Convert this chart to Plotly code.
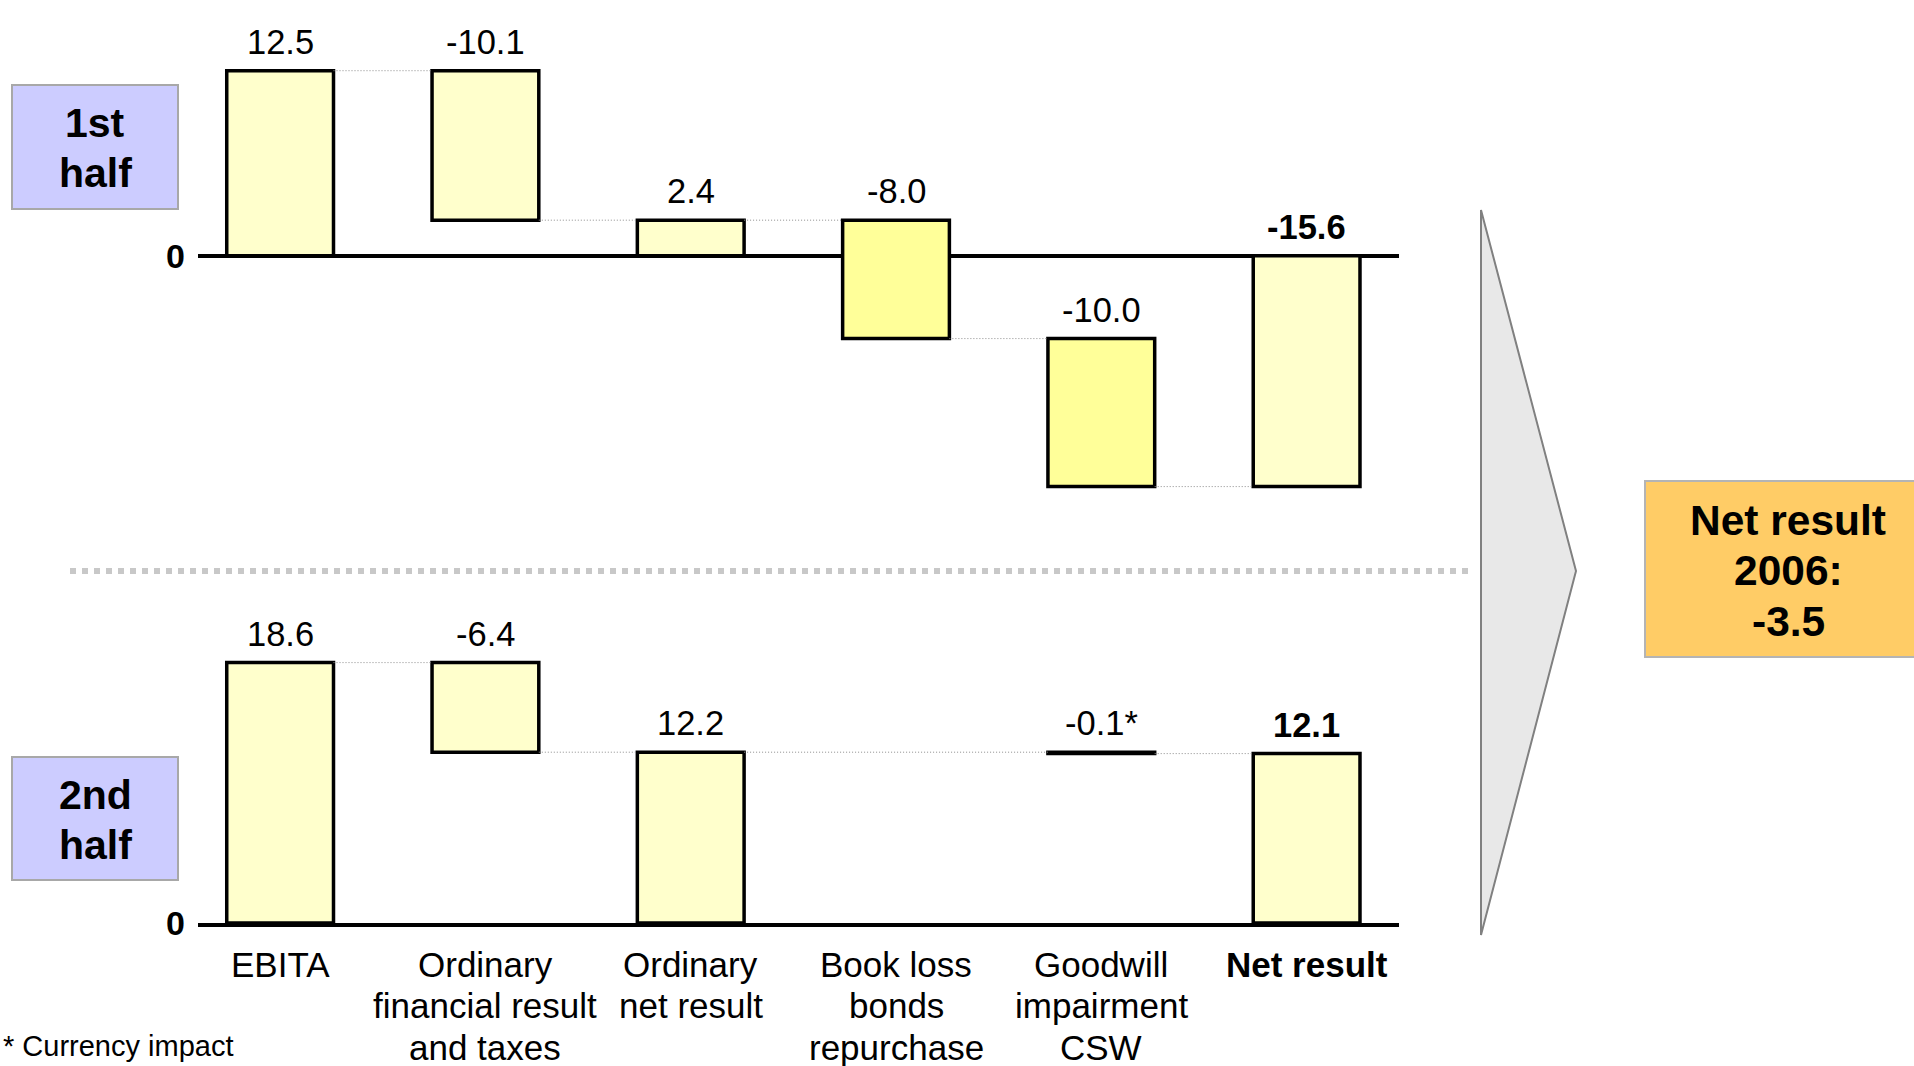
import plotly.graph_objects as go

W, H = 1914, 1066
FONT = "Liberation Sans, Arial, sans-serif"

# ---------------- data ----------------
categories = [
    "EBITA",
    "Ordinary<br>financial result<br>and taxes",
    "Ordinary<br>net result",
    "Book loss<br>bonds<br>repurchase",
    "Goodwill<br>impairment<br>CSW",
    "<b>Net result</b>",
]
measures = ["absolute", "relative", "total", "relative", "relative", "total"]
h1_values = [12.5, -10.1, 2.4, -8.0, -10.0, -15.6]
h2_values = [18.6, -6.4, 12.2, 0.0, -0.1, 12.1]
h1_colors = ["#FFFFCC", "#FFFFCC", "#FFFFCC", "#FFFF99", "#FFFF99", "#FFFFCC"]
h2_colors = ["#FFFFCC", "#FFFFCC", "#FFFFCC", "#FFFF99", "#FFFF99", "#FFFFCC"]
h1_suffix = ["", "", "", "", "", ""]
h2_suffix = ["", "", "", "", "*", ""]
bold_label = [False, False, False, False, False, True]
half_labels = ["1st<br>half", "2nd<br>half"]
total_text = "Net result<br>2006:<br>-3.5"
footnote = "* Currency impact"

BAR_W = 0.52


def px(x):
    return x / W


def py(y):
    return 1 - y / H


def steps(values):
    bases, heights, ends = [], [], []
    run = 0.0
    for v, m in zip(values, measures):
        if m in ("absolute", "total"):
            bases.append(0.0)
            heights.append(v)
            run = v
        else:
            bases.append(run)
            heights.append(v if v != 0 else None)
            run = run + v
        ends.append(run)
    return bases, heights, ends


fig = go.Figure()
annotations = []


def add_lines(text, x, xref, y_first, spacing, size, bold=False):
    for j, line in enumerate(text.split("<br>")):
        t = f"<b>{line}</b>" if bold else line
        annotations.append(dict(
            x=x, y=py(y_first + spacing * j), xref=xref, yref="paper",
            xanchor="center", yanchor="middle", text=t, showarrow=False,
            font=dict(size=size, color="black", family=FONT),
        ))


def add_panel(values, colors, suffix, xa, ya):
    bases, heights, ends = steps(values)
    xs = list(range(len(values)))
    fig.add_trace(go.Bar(
        x=xs, y=heights, base=bases, width=BAR_W,
        marker=dict(color=colors, line=dict(color="black", width=3.5)),
        xaxis=xa, yaxis=ya, hoverinfo="skip",
    ))
    # connectors
    prev = None
    for i in xs:
        if heights[i] is None:
            continue
        if prev is not None:
            lvl = ends[prev]
            fig.add_trace(go.Scatter(
                x=[prev + BAR_W / 2, i - BAR_W / 2], y=[lvl, lvl], mode="lines",
                line=dict(color="#8C8C8C", width=1, dash="1px,2px"),
                xaxis=xa, yaxis=ya, hoverinfo="skip",
            ))
        prev = i
    # value labels
    for i in xs:
        if heights[i] is None:
            continue
        top = max(bases[i], bases[i] + heights[i])
        t = f"{values[i]:.1f}{suffix[i]}"
        if bold_label[i]:
            t = f"<b>{t}</b>"
        annotations.append(dict(
            x=i, y=top, xref=xa, yref=ya, text=t, showarrow=False,
            xanchor="center", yanchor="bottom", yshift=8,
            font=dict(size=34.5, color="black", family=FONT),
        ))


add_panel(h1_values, h1_colors, h1_suffix, "x", "y")
add_panel(h2_values, h2_colors, h2_suffix, "x2", "y2")

# category labels under the lower axis
for i, cat in enumerate(categories):
    add_lines(cat, i, "x2", 964, 41.5, 35)

xdom = [px(198), px(1399)]
xrange_ = [-0.4, 5.45]

# side boxes
shapes = []
for (y0, y1) in [(85, 209), (757, 880)]:
    shapes.append(dict(type="rect", xref="paper", yref="paper",
                       x0=px(12), x1=px(178), y0=py(y1), y1=py(y0),
                       fillcolor="#CCCCFF", line=dict(color="#A8A8A8", width=2)))
for lab, yf in zip(half_labels, [123, 795]):
    add_lines(lab, px(95), "paper", yf, 50, 41, bold=True)

# dotted separator
shapes.append(dict(type="line", xref="paper", yref="paper",
                   x0=px(70), x1=px(1468), y0=py(571), y1=py(571),
                   line=dict(color="#C8C8C8", width=6, dash="6px,6px")))

# chevron
path = (f"M {px(1481)},{py(210)} L {px(1576)},{py(571)} "
        f"L {px(1481)},{py(935)} Z")
shapes.append(dict(type="path", xref="paper", yref="paper", path=path,
                   fillcolor="#E8E8E8", line=dict(color="#808080", width=2)))

# total box
shapes.append(dict(type="rect", xref="paper", yref="paper",
                   x0=px(1645), x1=px(1916), y0=py(657), y1=py(481),
                   fillcolor="#FFCC66", line=dict(color="#B4B4B4", width=2)))
add_lines(total_text, px(1788), "paper", 520, 50.5, 42.5, bold=True)

# footnote
annotations.append(dict(x=px(1), y=py(1046), xref="paper", yref="paper",
                        xanchor="left", yanchor="middle", text=footnote,
                        showarrow=False,
                        font=dict(size=29, color="black", family=FONT)))

k1, z1 = 14.8, 255.7
top1, bot1 = 15, 500
k2, z2 = 14.0, 923
top2 = 620

fig.update_layout(
    width=W, height=H, autosize=False,
    margin=dict(l=0, r=0, t=0, b=0, pad=0),
    paper_bgcolor="white", plot_bgcolor="white",
    showlegend=False, barmode="overlay",
    font=dict(family=FONT, color="black"),
    xaxis=dict(domain=xdom, range=xrange_, anchor="y", showticklabels=False,
               showgrid=False, zeroline=False, showline=False, ticks="",
               automargin=False, fixedrange=True),
    yaxis=dict(domain=[py(bot1), py(top1)],
               range=[-(bot1 - z1) / k1, (z1 - top1) / k1],
               anchor="x", tickvals=[0], ticktext=["<b>0</b>"],
               tickfont=dict(size=34, family=FONT, color="black"),
               showgrid=False, zeroline=True, zerolinecolor="black",
               zerolinewidth=4, ticks="", ticklabelstandoff=12,
               automargin=False, fixedrange=True),
    xaxis2=dict(domain=xdom, range=xrange_, anchor="y2",
                tickvals=list(range(len(categories))), showticklabels=False,
                showgrid=False, zeroline=False, showline=True,
                linecolor="black", linewidth=4, ticks="",
                automargin=False, fixedrange=True),
    yaxis2=dict(domain=[py(z2), py(top2)], range=[0, (z2 - top2) / k2],
                anchor="x2", tickvals=[0], ticktext=["<b>0</b>"],
                tickfont=dict(size=34, family=FONT, color="black"),
                showgrid=False, zeroline=False, ticks="",
                ticklabelstandoff=12, automargin=False, fixedrange=True),
    shapes=shapes,
    annotations=annotations,
)

fig.write_html("out.html")
